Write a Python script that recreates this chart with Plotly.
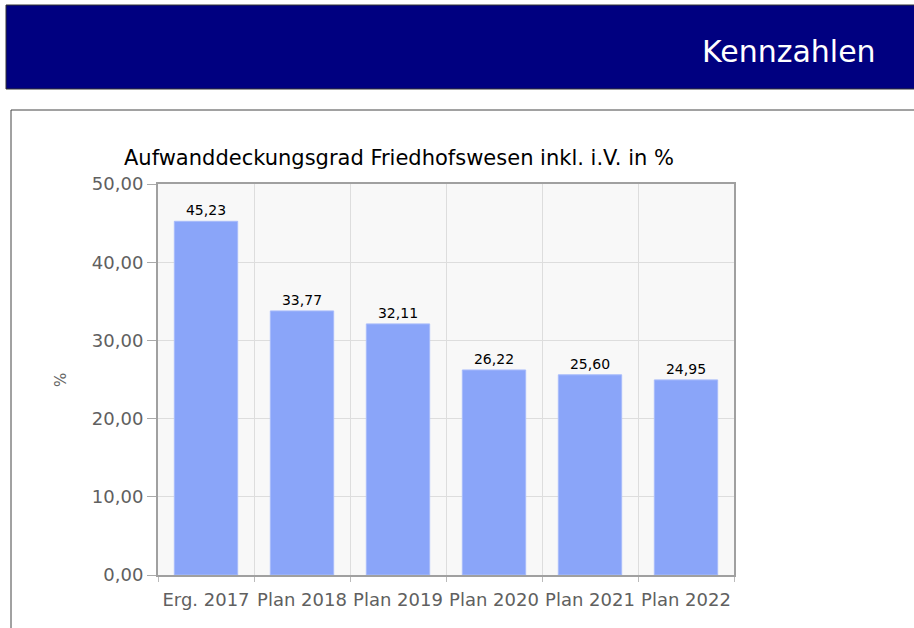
import plotly.graph_objects as go

W, H = 914, 628

categories = ['Erg. 2017', 'Plan 2018', 'Plan 2019', 'Plan 2020', 'Plan 2021', 'Plan 2022']
values = [45.23, 33.77, 32.11, 26.22, 25.60, 24.95]
y_ticks = [0, 10, 20, 30, 40, 50]

# helpers to place things in pixel terms (margins are zero, so paper == pixels)
def px(x): return x / W
def py(y): return 1 - y / H

font = 'DejaVu Sans, Verdana, sans-serif'

bars = go.Bar(
    x=categories, y=values,
    marker=dict(color='#8aa5f9', line=dict(color='#a9bcfb', width=1)),
    width=0.66,
    texttemplate='%{y:.2f}', textposition='outside',
    textfont=dict(size=14, color='#000000', family=font),
    cliponaxis=False, showlegend=False,
)

fig = go.Figure(data=[bars])

fig.update_layout(
    width=W, height=H, autosize=False,
    margin=dict(l=0, r=0, t=0, b=0, pad=0),
    paper_bgcolor='#ffffff', plot_bgcolor='#f8f8f8',
    separators=',.',
    font=dict(family=font),
    xaxis=dict(
        domain=[px(158), px(734)], automargin=False,
        type='category', tickson='boundaries', tickangle=0,
        ticks='outside', ticklen=5, tickcolor='#bbbbbb', tickwidth=1,
        ticklabelstandoff=7,
        showgrid=True, gridcolor='#dddddd', gridwidth=1,
        showline=True, linecolor='#a0a0a0', linewidth=2, mirror=True,
        tickfont=dict(size=18, color='#606060', family=font),
        fixedrange=True,
    ),
    yaxis=dict(
        domain=[py(575), py(184)], automargin=False,
        range=[0, 50], tickvals=y_ticks, tickformat='.2f',
        ticks='outside', ticklen=9, tickcolor='#aaaaaa', tickwidth=1,
        showgrid=True, gridcolor='#dddddd', gridwidth=1,
        showline=True, linecolor='#a0a0a0', linewidth=2, mirror=True,
        zeroline=False,
        tickfont=dict(size=18, color='#606060', family=font),
        fixedrange=True,
    ),
    shapes=[
        # header band
        dict(type='rect', xref='paper', yref='paper',
             x0=px(6), x1=px(920), y0=py(5), y1=py(89),
             fillcolor='#000080', line=dict(color='#333333', width=1), layer='below'),
        # content frame
        dict(type='rect', xref='paper', yref='paper',
             x0=px(11), x1=px(920), y0=py(110), y1=py(640),
             fillcolor='rgba(0,0,0,0)', line=dict(color='#444444', width=1), layer='below'),
    ],
    annotations=[
        dict(text='Kennzahlen', xref='paper', yref='paper', x=px(878), y=py(52),
             xanchor='right', yanchor='middle', showarrow=False,
             font=dict(size=30, color='#ffffff', family=font)),
        dict(text='Aufwanddeckungsgrad Friedhofswesen inkl. i.V. in %',
             xref='paper', yref='paper', x=px(122), y=py(158),
             xanchor='left', yanchor='middle', showarrow=False,
             font=dict(size=21, color='#000000', family=font)),
        dict(text='%', xref='paper', yref='paper', x=px(61), y=py(380),
             xanchor='center', yanchor='middle', showarrow=False, textangle=-90,
             font=dict(size=15, color='#666666', family=font)),
    ],
)

# drop the browser's default body margin so the figure sits at the page origin
fig.write_html('out.html', config={'displayModeBar': False},
               post_script="document.body.style.margin='0';document.body.style.overflow='hidden';")
